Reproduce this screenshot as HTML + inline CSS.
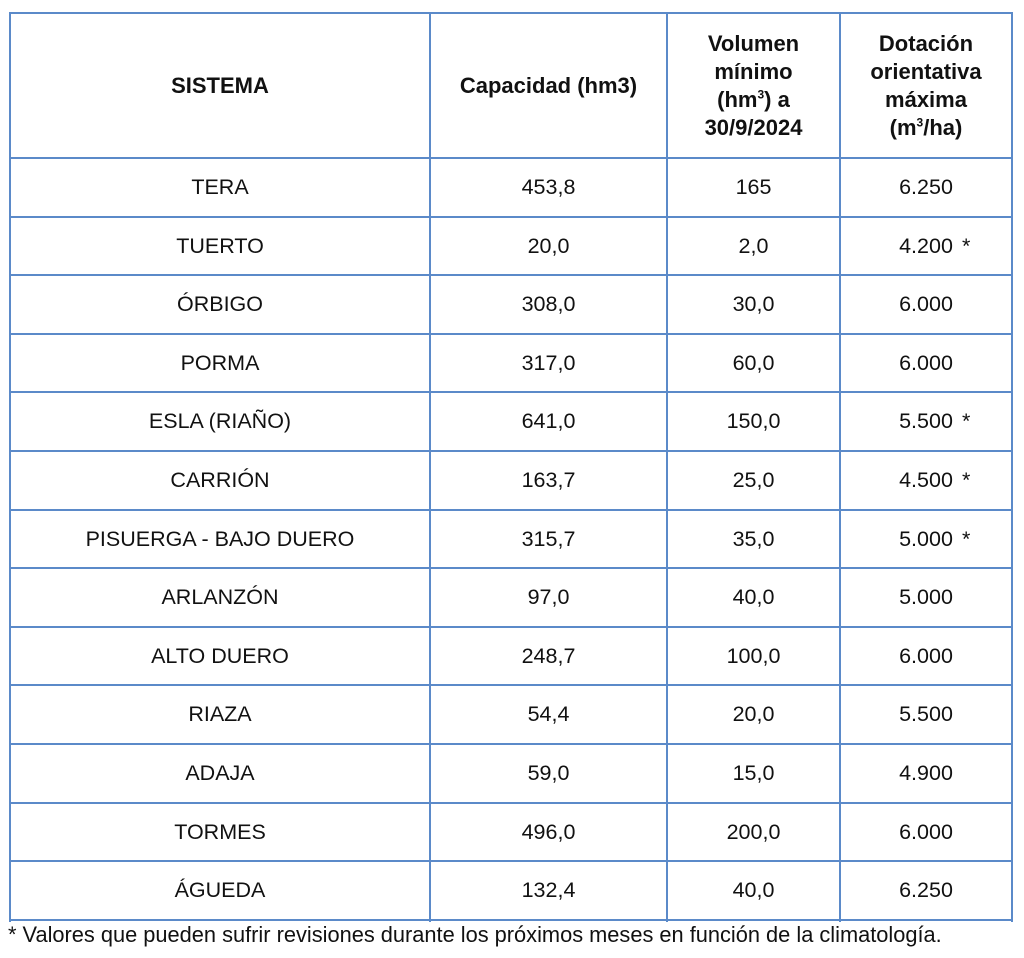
<!DOCTYPE html>
<html><head><meta charset="utf-8"><style>
body{margin:0;width:1024px;height:958px;background:#fff;font-family:"Liberation Sans",sans-serif;color:#111;position:relative;overflow:hidden}
.h{position:absolute;background:#5b8ac9;height:2px}
.v{position:absolute;background:#5b8ac9;width:2px;top:12px;height:910px}
.c{position:absolute;display:flex;align-items:center;justify-content:center;text-align:center;font-size:21.5px}
.b{font-weight:bold;font-size:22px;line-height:28px}
sup{font-size:12px;line-height:0}
.f{position:absolute;left:8px;top:922px;font-size:21.8px;white-space:nowrap}
</style></head><body>
<div class="v" style="left:9px"></div>
<div class="v" style="left:429px"></div>
<div class="v" style="left:666px"></div>
<div class="v" style="left:839px"></div>
<div class="v" style="left:1011px"></div>
<div id="hs"></div>
<script>
var ys=[12,157];for(var i=1;i<=13;i++)ys.push(Math.round(157+i*58.6));
var html='';ys.forEach(function(y){html+='<div class="h" style="left:9px;width:1004px;top:'+y+'px"></div>'});
var cols=[[11,429],[431,666],[668,839],[841,1011]];
var hdr=['SISTEMA','Capacidad (hm3)','Volumen<br>mínimo<br>(hm<sup>3</sup>) a<br>30/9/2024','Dotación<br>orientativa<br>máxima<br>(m<sup>3</sup>/ha)'];
var rows=[['TERA','453,8','165','6.250'],['TUERTO','20,0','2,0','4.200 *'],['ÓRBIGO','308,0','30,0','6.000'],['PORMA','317,0','60,0','6.000'],['ESLA (RIAÑO)','641,0','150,0','5.500 *'],['CARRIÓN','163,7','25,0','4.500 *'],['PISUERGA - BAJO DUERO','315,7','35,0','5.000 *'],['ARLANZÓN','97,0','40,0','5.000'],['ALTO DUERO','248,7','100,0','6.000'],['RIAZA','54,4','20,0','5.500'],['ADAJA','59,0','15,0','4.900'],['TORMES','496,0','200,0','6.000'],['ÁGUEDA','132,4','40,0','6.250']];
hdr.forEach(function(t,j){html+='<div class="c b" style="left:'+cols[j][0]+'px;width:'+(cols[j][1]-cols[j][0])+'px;top:14px;height:143px"><div>'+t+'</div></div>'});
rows.forEach(function(r,i){var y=ys[i+1]+2,h=ys[i+2]-ys[i+1]-2;r.forEach(function(t,j){if(t.indexOf('*')>0){t=t.replace(' *','')+'<span style="position:absolute;left:calc(50% + 36px)">*</span>';}html+='<div class="c" style="left:'+cols[j][0]+'px;width:'+(cols[j][1]-cols[j][0])+'px;top:'+y+'px;height:'+h+'px">'+t+'</div>'})});
document.getElementById('hs').innerHTML=html;
</script>
<div class="f">* Valores que pueden sufrir revisiones durante los próximos meses en función de la climatología.</div>
</body></html>
